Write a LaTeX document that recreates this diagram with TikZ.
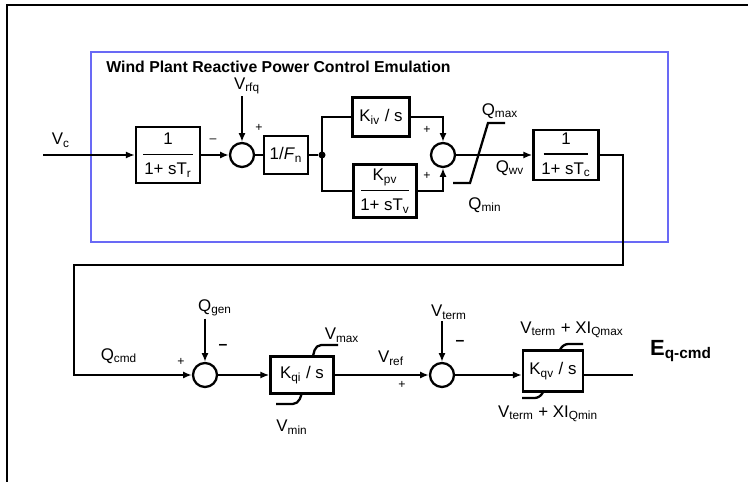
\documentclass[tikz,border=0pt]{standalone}
\usepackage{fontspec}
\setmainfont{Liberation Sans}
\usetikzlibrary{arrows.meta}
\definecolor{plantblue}{RGB}{105,105,245}
\newcommand{\frc}[3][0.95cm]{#2\\[-3pt]\rule[2pt]{#1}{0.9pt}\\[-2pt]#3}
\newcommand{\lblfont}{\fontsize{9.6}{11}\selectfont}

\begin{document}
\begin{tikzpicture}[
  x=0.02cm, y=-0.02cm,
  block/.style={rectangle, draw, line width=1.4pt, align=center,
    font=\lblfont, inner sep=1pt},
  sumj/.style={circle, draw, line width=1.3pt, minimum size=0.48cm, inner sep=0pt},
  dot/.style={circle, fill, minimum size=4pt, inner sep=0pt},
  lbl/.style={font=\lblfont, inner sep=1pt},
  sgn/.style={font=\scriptsize, inner sep=0pt},
  ttl/.style={font=\fontsize{9}{11}\selectfont\bfseries, inner sep=0pt},
  arr/.style={-{Latex[length=5pt,width=4pt]}, line width=1pt},
  wire/.style={line width=1pt},
  loopw/.style={-{Latex[length=5pt,width=4pt]}, line width=1.5pt},
  lim/.style={line width=1.3pt},
  plant/.style={draw=plantblue, line width=1pt}
]
\useasboundingbox (0,0) rectangle (748,482);
\draw[line width=0.8pt] (7,482) -- (7,5) -- (748,5);
\draw[plant] (91,52) rectangle (668,242);
\node[ttl, anchor=west] (title) at (106,67)
  {Wind Plant Reactive Power Control Emulation};

\coordinate (vcin) at (43,155);
\node[lbl] (vc) at (61,140) {V\textsubscript{c}};
\node[block, minimum width=1.28cm, minimum height=1.12cm] (lagr) at (168,155)
  {\frc[1.0cm]{1}{1+ sT\textsubscript{r}}};
\node[sumj] (sum1) at (242,155) {};
\node[lbl] (vrfq) at (247,86) {V\textsubscript{rfq}};
\node[sgn] (s1m) at (213,141) {--};
\node[sgn] (s1p) at (259,128) {+};
\node[block, minimum width=0.88cm, minimum height=0.76cm] (fn) at (286,155)
  {1/\textit{F}\textsubscript{n}};
\node[dot] (jn) at (322,155) {};
\node[block, minimum width=1.14cm, minimum height=0.78cm] (kiv) at (381,117)
  {K\textsubscript{iv} / s};
\node[block, minimum width=1.26cm, minimum height=1.06cm] (kpv) at (385,191)
  {\frc[0.95cm]{K\textsubscript{pv}}{1+ sT\textsubscript{v}}};
\node[sumj] (sum2) at (443,155) {};
\node[sgn] (s2a) at (427,130) {+};
\node[sgn] (s2b) at (427,176) {+};
\node[lbl] (qmax) at (500,111) {Q\textsubscript{max}};
\node[lbl] (qwv) at (510,168) {Q\textsubscript{wv}};
\node[lbl] (qmin) at (485,205) {Q\textsubscript{min}};
\node[block, minimum width=1.3cm, minimum height=1.0cm] (lagc) at (566,155)
  {\frc[0.9cm]{1}{1+ sT\textsubscript{c}}};
\coordinate (c1) at (623,155);
\coordinate (c2) at (623,265);
\coordinate (c3) at (74,265);
\coordinate (c4) at (74,375);

\node[sumj] (sum3) at (205,375) {};
\node[lbl] (qcmd) at (119,356) {Q\textsubscript{cmd}};
\node[sgn] (s3p) at (181,362) {+};
\node[lbl] (qgen) at (215,308) {Q\textsubscript{gen}};
\node[font=\small\bfseries, inner sep=0pt] (s3m) at (223,347) {--};
\node[block, minimum width=1.26cm, minimum height=0.74cm] (kqi) at (302,375)
  {K\textsubscript{qi} / s};
\node[lbl] (vmax) at (342,335) {V\textsubscript{max}};
\node[lbl] (vmin) at (292,427) {V\textsubscript{min}};
\node[lbl] (vref) at (391,358) {V\textsubscript{ref}};
\node[sgn] (s4p) at (402,385) {+};
\node[sumj] (sum4) at (442,375) {};
\node[lbl] (vterm) at (449,312) {V\textsubscript{term}};
\node[font=\small\bfseries, inner sep=0pt] (s4m) at (460,343) {--};
\node[block, minimum width=1.2cm, minimum height=0.82cm] (kqv) at (553,371)
  {K\textsubscript{qv} / s};
\node[lbl] (vqmax) at (572,330) {V\textsubscript{term} + XI\textsubscript{Qmax}};
\node[lbl] (vqmin) at (548,414) {V\textsubscript{term} + XI\textsubscript{Qmin}};
\coordinate (eqout) at (633,375);
\node[lbl, font=\fontsize{12.5}{14}\selectfont\bfseries] (eq) at (681,351)
  {E\textsubscript{q-cmd}};

\draw[arr] (vcin) -- (lagr);
\draw[arr] (lagr) -- (sum1);
\draw[arr] (vrfq.south -| sum1) -- (sum1);
\draw[wire] (sum1) -- (fn);
\draw[wire] (fn) -- (jn);
\draw[wire] (jn.center) |- (kiv);
\draw[wire] (jn.center) |- (kpv);
\draw[arr] (kiv) -| (sum2);
\draw[arr] (kpv) -| (sum2);
\draw[arr] (sum2) -- (lagc);
\draw[lim] (453,183) -- (470,183) -- (488,123) -- (505,123);
\draw[loopw] (lagc) -- (c1) -- (c2) -- (c3) -- (c4) -- (sum3);
\draw[arr] (qgen.south -| sum3) -- (sum3);
\draw[arr] (sum3) -- (kqi);
\draw[lim, rounded corners=3pt] (313,356) -- (316,345) -- (338,345);
\draw[lim, rounded corners=3pt] (302,393) -- (298,404) -- (276,404);
\draw[arr] (kqi) -- (sum4);
\draw[arr] (vterm.south -| sum4) -- (sum4);
\draw[arr] (sum4) -- (sum4 -| kqv.west);
\draw[lim, rounded corners=3pt] (560,350) -- (563,344) -- (583,344);
\draw[lim, rounded corners=3pt] (543,392) -- (540,398) -- (522,398);
\draw[wire] (kqv.east |- eqout) -- (eqout);
\end{tikzpicture}
\end{document}
